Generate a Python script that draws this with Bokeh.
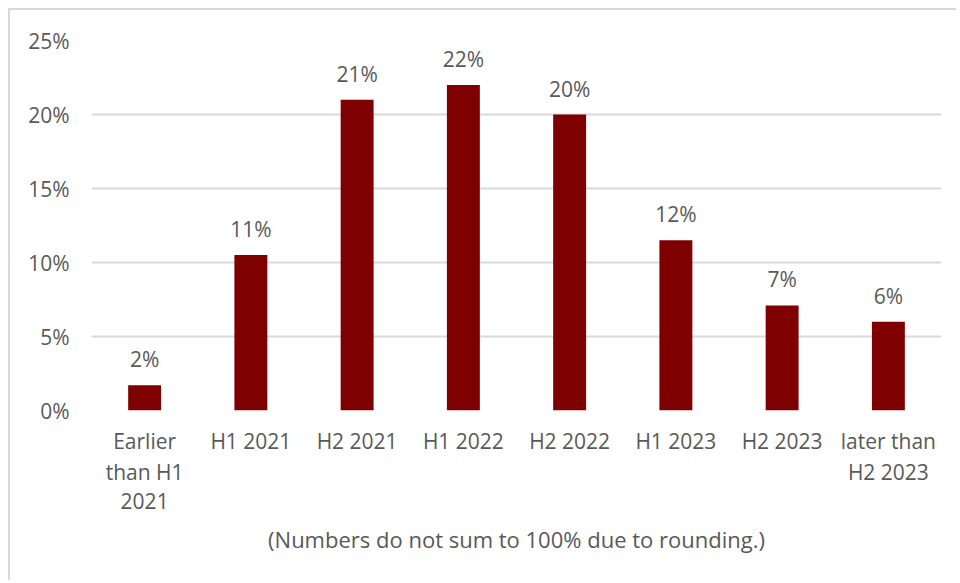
from bokeh.plotting import figure
from bokeh.models import (ColumnDataSource, Range1d, FixedTicker,
                          PrintfTickFormatter, LinearAxis)
from bokeh.embed import file_html
from bokeh.resources import INLINE
from bokeh.core.properties import value

categories = ["Earlier than H1 2021", "H1 2021", "H2 2021", "H1 2022", "H2 2022",
              "H1 2023", "H2 2023", "later than H2 2023"]
label_lines = [["Earlier", "than H1", "2021"], ["H1 2021"], ["H2 2021"], ["H1 2022"],
               ["H2 2022"], ["H1 2023"], ["H2 2023"], ["later than", "H2 2023"]]
shares = [1.7, 10.5, 21.0, 22.0, 20.0, 11.5, 7.1, 6.0]
share_labels = ["2%", "11%", "21%", "22%", "20%", "12%", "7%", "6%"]
y_ticks = [0, 5, 10, 15, 20, 25]
note = "(Numbers do not sum to 100% due to rounding.)"

FONT = "Open Sans"
GREY = "#595959"
FS = "21px"

idx = list(range(len(categories)))
src = ColumnDataSource(dict(x=idx, cat=categories, val=shares, lab=share_labels))

p = figure(x_range=Range1d(-0.5, len(categories) - 0.5), y_range=Range1d(0, 25),
           frame_width=850, frame_height=370,
           min_border_left=81, min_border_right=15, min_border_top=30, min_border_bottom=170,
           output_backend="svg", toolbar_location=None,
           background_fill_color="white", border_fill_color="white")
p.styles = {"border-top": "2px solid #D9D9D9", "border-left": "2px solid #D9D9D9",
            "margin-left": "8px", "margin-top": "8px"}

p.vbar(x="x", top="val", width=0.31, source=src, fill_color="#7F0000", line_color=None)
p.text(x="x", y="val", text="lab", source=src, y_offset=-12,
       text_align="center", text_baseline="bottom",
       text_font=value(FONT), text_font_size=FS, text_color=GREY)

p.outline_line_color = None
p.xgrid.grid_line_color = None
p.ygrid.grid_line_color = "#D9D9D9"
p.ygrid.grid_line_width = 2
p.ygrid.ticker = FixedTicker(ticks=y_ticks)

p.yaxis.ticker = FixedTicker(ticks=y_ticks)
p.yaxis.formatter = PrintfTickFormatter(format="%d%%")
p.yaxis.axis_line_color = None
p.yaxis.major_tick_line_color = None
p.yaxis.minor_tick_line_color = None
p.yaxis.major_label_standoff = 16
p.yaxis.major_label_text_font = FONT
p.yaxis.major_label_text_font_size = FS
p.yaxis.major_label_text_color = GREY


def style_x(ax, line_idx, standoff):
    ax.ticker = FixedTicker(ticks=idx, minor_ticks=[])
    ax.axis_line_color = None
    ax.major_tick_line_color = None
    ax.minor_tick_line_color = None
    ax.major_tick_out = 0
    ax.major_tick_in = 0
    ax.minor_tick_out = 0
    ax.minor_tick_in = 0
    ax.major_label_standoff = standoff
    ax.major_label_text_font = FONT
    ax.major_label_text_font_size = FS
    ax.major_label_text_color = GREY
    ax.major_label_overrides = {
        i: (lines[line_idx] if line_idx < len(lines) else " ")
        for i, lines in zip(idx, label_lines)
    }


x1 = p.xaxis[0]
style_x(x1, 0, 16)
x2 = LinearAxis()
style_x(x2, 1, 0)
p.add_layout(x2, "below")
x3 = LinearAxis()
style_x(x3, 2, -2)
p.add_layout(x3, "below")

x3.axis_label = note
x3.axis_label_standoff = 6
x3.axis_label_text_font = FONT
x3.axis_label_text_font_size = "22px"
x3.axis_label_text_font_style = "normal"
x3.axis_label_text_color = GREY

open("out.html", "w").write(file_html(p, INLINE))
